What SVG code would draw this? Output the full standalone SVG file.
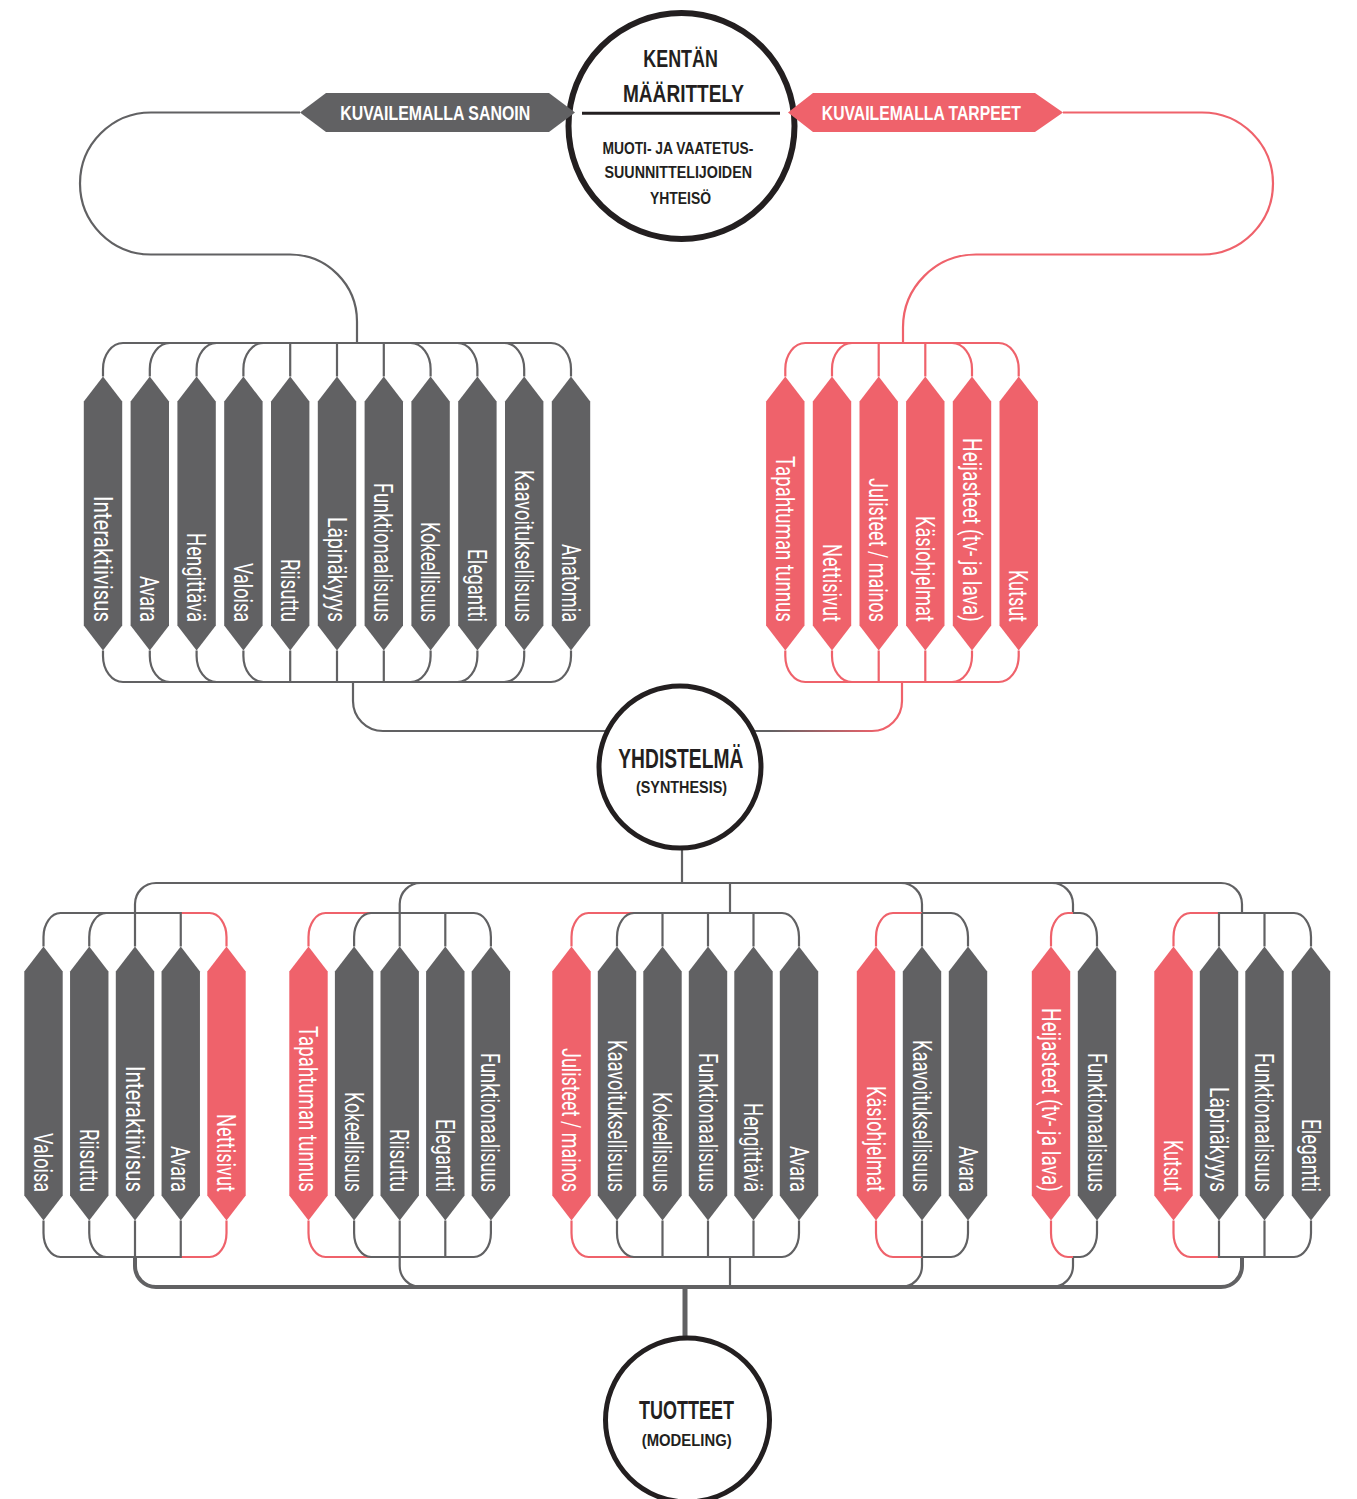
<svg xmlns="http://www.w3.org/2000/svg" xmlns:xlink="http://www.w3.org/1999/xlink" width="1357" height="1499" viewBox="0 0 1357 1499">
<style>
.g{fill:#616163}
.r{fill:#ef626b}
.lg{fill:none;stroke:#616163;stroke-width:2.2}
.lr{fill:none;stroke:#ef626b;stroke-width:2.2}
.lbl{font-family:Roboto,'Liberation Sans',sans-serif;font-weight:400;font-size:25px;fill:#fff}
.hd{font-family:'Liberation Sans',Arial,sans-serif;font-weight:700;fill:#231f20}
.bn{font-family:'Liberation Sans',Arial,sans-serif;font-weight:700;font-size:19.5px;fill:#fff}
.ring{fill:#fff;stroke:#231f20}
</style>
<defs>
<path id="pill" d="M0,0 L19.2,25 V249 L0,274 L-19.2,249 V25 Z"/>
<linearGradient id="gr" gradientUnits="userSpaceOnUse" x1="770" y1="0" x2="880" y2="0">
<stop offset="0" stop-color="#616163"/><stop offset="1" stop-color="#ef626b"/>
</linearGradient>
</defs>
<rect width="1357" height="1499" fill="#fff"/>
<g id="connectors">
<path class="lg" d="M300,112.5H151A71 71 0 0 0 151,254.5H290A67 67 0 0 1 357,321.5V343
M103,376.5V369A20 26 0 0 1 123,343H357M149.8,376.5V369A20 26 0 0 1 169.8,343H357M196.6,376.5V369A20 26 0 0 1 216.6,343H357M243.4,376.5V369A20 26 0 0 1 263.4,343H357M290.2,376.5V343H357M337,376.5V343H357M383.8,376.5V343H357M430.6,376.5V369A20 26 0 0 0 410.6,343H357M477.4,376.5V369A20 26 0 0 0 457.4,343H357M524.2,376.5V369A20 26 0 0 0 504.2,343H357M571,376.5V369A20 26 0 0 0 551,343H357
M103,650.5V656A20 26 0 0 0 123,682H353M149.8,650.5V656A20 26 0 0 0 169.8,682H353M196.6,650.5V656A20 26 0 0 0 216.6,682H353M243.4,650.5V656A20 26 0 0 0 263.4,682H353M290.2,650.5V682H353M337,650.5V682H353M383.8,650.5V682H353M430.6,650.5V656A20 26 0 0 1 410.6,682H353M477.4,650.5V656A20 26 0 0 1 457.4,682H353M524.2,650.5V656A20 26 0 0 1 504.2,682H353M571,650.5V656A20 26 0 0 1 551,682H353
M353,682V701A30 30 0 0 0 383,731H620"/>
<path class="lr" d="M1063,112.5H1202A71 71 0 0 1 1202,254.5H976A73 73 0 0 0 903,327.5V343
M785.3,376.5V369A20 26 0 0 1 805.3,343H903M832,376.5V369A20 26 0 0 1 852,343H903M878.7,376.5V343H903M925.3,376.5V343H903M972,376.5V369A20 26 0 0 0 952,343H903M1018.7,376.5V369A20 26 0 0 0 998.7,343H903
M785.3,650.5V656A20 26 0 0 0 805.3,682H902M832,650.5V656A20 26 0 0 0 852,682H902M878.7,650.5V682H902M925.3,650.5V682H902M972,650.5V656A20 26 0 0 1 952,682H902M1018.7,650.5V656A20 26 0 0 1 998.7,682H902"/>
<path fill="none" stroke="url(#gr)" stroke-width="2.2" d="M902,682V701A30 30 0 0 1 872,731H740"/>
<path class="lg" d="M682,848V883
M135,913V904A21 21 0 0 1 156,883H1221A21 21 0 0 1 1242,904V913
M399.7,913V904A21 21 0 0 1 420.7,883M730,883V913M901,883A21 21 0 0 1 922,904V913M1052,883A21 21 0 0 1 1073,904V913
M399.7,1257V1266A21 21 0 0 0 420.7,1287M730,1257V1287M922,1257V1266A21 21 0 0 1 901,1287M1073,1257V1266A21 21 0 0 1 1052,1287"/>
<path class="lg" style="stroke-width:4" d="M135,1257V1266A21 21 0 0 0 156,1287H1221A21 21 0 0 0 1242,1266V1257"/>
<path class="lg" style="stroke-width:5" d="M685,1287V1340"/>
<path class="lr" d="M226.5,946.5V937A17 24 0 0 0 209.5,913H180.75M226.5,1220.5V1233A17 24 0 0 1 209.5,1257H180.75
M308.5,946.5V937A17 24 0 0 1 325.5,913H371.1M308.5,1220.5V1233A17 24 0 0 0 325.5,1257H371.1
M571.5,946.5V937A17 24 0 0 1 588.5,913H634M571.5,1220.5V1233A17 24 0 0 0 588.5,1257H634
M876,946.5V937A17 24 0 0 1 893,913H922M876,1220.5V1233A17 24 0 0 0 893,1257H922
M1051,946.5V937A17 24 0 0 1 1068,913H1073M1051,1220.5V1233A17 24 0 0 0 1068,1257H1073
M1173.5,946.5V937A17 24 0 0 1 1190.5,913H1219M1173.5,1220.5V1233A17 24 0 0 0 1190.5,1257H1219"/>
<path class="lg" d="M43.5,946.5V937A17 24 0 0 1 60.5,913H135M89.25,946.5V937A17 24 0 0 1 106.25,913H135M135,946.5V913M180.75,946.5V913H135
M43.5,1220.5V1233A17 24 0 0 0 60.5,1257H135M89.25,1220.5V1233A17 24 0 0 0 106.25,1257H135M135,1220.5V1257M180.75,1220.5V1257H135
M354.1,946.5V937A17 24 0 0 1 371.1,913H399.7M399.7,946.5V913M445.3,946.5V913H399.7M490.9,946.5V937A17 24 0 0 0 473.9,913H399.7
M354.1,1220.5V1233A17 24 0 0 0 371.1,1257H399.7M399.7,1220.5V1257M445.3,1220.5V1257H399.7M490.9,1220.5V1233A17 24 0 0 1 473.9,1257H399.7
M617,946.5V937A17 24 0 0 1 634,913H730M662.5,946.5V913H730M708,946.5V913H730M753.5,946.5V913H730M799,946.5V937A17 24 0 0 0 782,913H730
M617,1220.5V1233A17 24 0 0 0 634,1257H730M662.5,1220.5V1257H730M708,1220.5V1257H730M753.5,1220.5V1257H730M799,1220.5V1233A17 24 0 0 1 782,1257H730
M922,946.5V913M968,946.5V937A17 24 0 0 0 951,913H922M922,1220.5V1257M968,1220.5V1233A17 24 0 0 1 951,1257H922
M1097,946.5V937A17 24 0 0 0 1080,913H1073M1097,1220.5V1233A17 24 0 0 1 1080,1257H1073
M1219,946.5V913H1242M1264.5,946.5V913H1242M1311,946.5V937A17 24 0 0 0 1294,913H1242
M1219,1220.5V1257H1242M1264.5,1220.5V1257H1242M1311,1220.5V1233A17 24 0 0 1 1294,1257H1242"/>
</g>

<g id="node-kentan">
<circle class="ring" cx="681.5" cy="126" r="113" stroke-width="6"/>
<path d="M582,113.3H780" stroke="#231f20" stroke-width="3"/>
<text class="hd" x="643.3" y="66.7" font-size="24" textLength="74.5" lengthAdjust="spacingAndGlyphs">KENTÄN</text>
<text class="hd" x="623" y="101.7" font-size="24" textLength="121" lengthAdjust="spacingAndGlyphs">MÄÄRITTELY</text>
<text class="hd" x="602.4" y="153.5" font-size="16" textLength="151" lengthAdjust="spacingAndGlyphs">MUOTI- JA VAATETUS-</text>
<text class="hd" x="604.5" y="178.3" font-size="16" textLength="147.5" lengthAdjust="spacingAndGlyphs">SUUNNITTELIJOIDEN</text>
<text class="hd" x="650" y="204" font-size="16" textLength="61" lengthAdjust="spacingAndGlyphs">YHTEISÖ</text>
</g>
<g id="banner-sanoin">
<polygon class="g" points="300,112.5 326,93 549,93 575,112.5 549,132 326,132"/>
<text class="bn" x="340.2" y="120" textLength="190" lengthAdjust="spacingAndGlyphs">KUVAILEMALLA SANOIN</text>
</g>
<g id="banner-tarpeet">
<polygon class="r" points="788,112.5 813,93 1035,93 1063,112.5 1035,132 813,132"/>
<text class="bn" x="821.8" y="120" textLength="199" lengthAdjust="spacingAndGlyphs">KUVAILEMALLA TARPEET</text>
</g>

<g id="node-yhdistelma">
<circle class="ring" cx="680" cy="767" r="81" stroke-width="5"/>
<text class="hd" x="618.3" y="768" font-size="28" textLength="125" lengthAdjust="spacingAndGlyphs">YHDISTELMÄ</text>
<text class="hd" x="636" y="793.3" font-size="17" textLength="91" lengthAdjust="spacingAndGlyphs">(SYNTHESIS)</text>
</g>
<g id="node-tuotteet">
<circle class="ring" cx="687.5" cy="1420" r="82" stroke-width="5"/>
<text class="hd" x="639" y="1419.3" font-size="26" textLength="95" lengthAdjust="spacingAndGlyphs">TUOTTEET</text>
<text class="hd" x="641.7" y="1445.7" font-size="17" textLength="90" lengthAdjust="spacingAndGlyphs">(MODELING)</text>
</g>

<g id="group-sanoin">
<g id="u-interaktiivisus"><use href="#pill" class="g" x="103" y="376.5"/><text class="lbl" transform="translate(103,622) rotate(90)" x="-126" y="9.5" textLength="126" lengthAdjust="spacingAndGlyphs">Interaktiivisus</text></g>
<g id="u-avara"><use href="#pill" class="g" x="149.8" y="376.5"/><text class="lbl" transform="translate(149.8,622) rotate(90)" x="-46" y="9.5" textLength="46" lengthAdjust="spacingAndGlyphs">Avara</text></g>
<g id="u-hengittava"><use href="#pill" class="g" x="196.6" y="376.5"/><text class="lbl" transform="translate(196.6,622) rotate(90)" x="-89" y="9.5" textLength="89" lengthAdjust="spacingAndGlyphs">Hengittävä</text></g>
<g id="u-valoisa"><use href="#pill" class="g" x="243.4" y="376.5"/><text class="lbl" transform="translate(243.4,622) rotate(90)" x="-59" y="9.5" textLength="59" lengthAdjust="spacingAndGlyphs">Valoisa</text></g>
<g id="u-riisuttu"><use href="#pill" class="g" x="290.2" y="376.5"/><text class="lbl" transform="translate(290.2,622) rotate(90)" x="-63" y="9.5" textLength="63" lengthAdjust="spacingAndGlyphs">Riisuttu</text></g>
<g id="u-lapinakyyys"><use href="#pill" class="g" x="337" y="376.5"/><text class="lbl" transform="translate(337,622) rotate(90)" x="-105" y="9.5" textLength="105" lengthAdjust="spacingAndGlyphs">Läpinäkyyys</text></g>
<g id="u-funktionaalisuus"><use href="#pill" class="g" x="383.8" y="376.5"/><text class="lbl" transform="translate(383.8,622) rotate(90)" x="-139" y="9.5" textLength="139" lengthAdjust="spacingAndGlyphs">Funktionaalisuus</text></g>
<g id="u-kokeellisuus"><use href="#pill" class="g" x="430.6" y="376.5"/><text class="lbl" transform="translate(430.6,622) rotate(90)" x="-100" y="9.5" textLength="100" lengthAdjust="spacingAndGlyphs">Kokeellisuus</text></g>
<g id="u-elegantti"><use href="#pill" class="g" x="477.4" y="376.5"/><text class="lbl" transform="translate(477.4,622) rotate(90)" x="-73" y="9.5" textLength="73" lengthAdjust="spacingAndGlyphs">Elegantti</text></g>
<g id="u-kaavoituksellisuus"><use href="#pill" class="g" x="524.2" y="376.5"/><text class="lbl" transform="translate(524.2,622) rotate(90)" x="-152" y="9.5" textLength="152" lengthAdjust="spacingAndGlyphs">Kaavoituksellisuus</text></g>
<g id="u-anatomia"><use href="#pill" class="g" x="571" y="376.5"/><text class="lbl" transform="translate(571,622) rotate(90)" x="-78" y="9.5" textLength="78" lengthAdjust="spacingAndGlyphs">Anatomia</text></g>
</g>

<g id="group-tarpeet">
<g id="u-tapahtuman"><use href="#pill" class="r" x="785.3" y="376.5"/><text class="lbl" transform="translate(785.3,622) rotate(90)" x="-166" y="9.5" textLength="166" lengthAdjust="spacingAndGlyphs">Tapahtuman tunnus</text></g>
<g id="u-nettisivut"><use href="#pill" class="r" x="832" y="376.5"/><text class="lbl" transform="translate(832,622) rotate(90)" x="-78" y="9.5" textLength="78" lengthAdjust="spacingAndGlyphs">Nettisivut</text></g>
<g id="u-julisteet"><use href="#pill" class="r" x="878.7" y="376.5"/><text class="lbl" transform="translate(878.7,622) rotate(90)" x="-144" y="9.5" textLength="144" lengthAdjust="spacingAndGlyphs">Julisteet / mainos</text></g>
<g id="u-kasiohjelmat"><use href="#pill" class="r" x="925.3" y="376.5"/><text class="lbl" transform="translate(925.3,622) rotate(90)" x="-106" y="9.5" textLength="106" lengthAdjust="spacingAndGlyphs">Käsiohjelmat</text></g>
<g id="u-heijasteet"><use href="#pill" class="r" x="972" y="376.5"/><text class="lbl" transform="translate(972,622) rotate(90)" x="-184" y="9.5" textLength="184" lengthAdjust="spacingAndGlyphs">Heijasteet (tv- ja lava)</text></g>
<g id="u-kutsut"><use href="#pill" class="r" x="1018.7" y="376.5"/><text class="lbl" transform="translate(1018.7,622) rotate(90)" x="-52" y="9.5" textLength="52" lengthAdjust="spacingAndGlyphs">Kutsut</text></g>
</g>

<g id="product-1">
<g id="p1-valoisa"><use href="#pill" class="g" x="43.5" y="946.5"/><text class="lbl" transform="translate(43.5,1192) rotate(90)" x="-59" y="9.5" textLength="59" lengthAdjust="spacingAndGlyphs">Valoisa</text></g>
<g id="p1-riisuttu"><use href="#pill" class="g" x="89.25" y="946.5"/><text class="lbl" transform="translate(89.25,1192) rotate(90)" x="-63" y="9.5" textLength="63" lengthAdjust="spacingAndGlyphs">Riisuttu</text></g>
<g id="p1-interaktiivisus"><use href="#pill" class="g" x="135" y="946.5"/><text class="lbl" transform="translate(135,1192) rotate(90)" x="-126" y="9.5" textLength="126" lengthAdjust="spacingAndGlyphs">Interaktiivisus</text></g>
<g id="p1-avara"><use href="#pill" class="g" x="180.75" y="946.5"/><text class="lbl" transform="translate(180.75,1192) rotate(90)" x="-46" y="9.5" textLength="46" lengthAdjust="spacingAndGlyphs">Avara</text></g>
<g id="p1-nettisivut"><use href="#pill" class="r" x="226.5" y="946.5"/><text class="lbl" transform="translate(226.5,1192) rotate(90)" x="-78" y="9.5" textLength="78" lengthAdjust="spacingAndGlyphs">Nettisivut</text></g>
</g>
<g id="product-2">
<g id="p2-tapahtuman"><use href="#pill" class="r" x="308.5" y="946.5"/><text class="lbl" transform="translate(308.5,1192) rotate(90)" x="-166" y="9.5" textLength="166" lengthAdjust="spacingAndGlyphs">Tapahtuman tunnus</text></g>
<g id="p2-kokeellisuus"><use href="#pill" class="g" x="354.1" y="946.5"/><text class="lbl" transform="translate(354.1,1192) rotate(90)" x="-100" y="9.5" textLength="100" lengthAdjust="spacingAndGlyphs">Kokeellisuus</text></g>
<g id="p2-riisuttu"><use href="#pill" class="g" x="399.7" y="946.5"/><text class="lbl" transform="translate(399.7,1192) rotate(90)" x="-63" y="9.5" textLength="63" lengthAdjust="spacingAndGlyphs">Riisuttu</text></g>
<g id="p2-elegantti"><use href="#pill" class="g" x="445.3" y="946.5"/><text class="lbl" transform="translate(445.3,1192) rotate(90)" x="-73" y="9.5" textLength="73" lengthAdjust="spacingAndGlyphs">Elegantti</text></g>
<g id="p2-funktionaalisuus"><use href="#pill" class="g" x="490.9" y="946.5"/><text class="lbl" transform="translate(490.9,1192) rotate(90)" x="-139" y="9.5" textLength="139" lengthAdjust="spacingAndGlyphs">Funktionaalisuus</text></g>
</g>
<g id="product-3">
<g id="p3-julisteet"><use href="#pill" class="r" x="571.5" y="946.5"/><text class="lbl" transform="translate(571.5,1192) rotate(90)" x="-144" y="9.5" textLength="144" lengthAdjust="spacingAndGlyphs">Julisteet / mainos</text></g>
<g id="p3-kaavoituksellisuus"><use href="#pill" class="g" x="617" y="946.5"/><text class="lbl" transform="translate(617,1192) rotate(90)" x="-152" y="9.5" textLength="152" lengthAdjust="spacingAndGlyphs">Kaavoituksellisuus</text></g>
<g id="p3-kokeellisuus"><use href="#pill" class="g" x="662.5" y="946.5"/><text class="lbl" transform="translate(662.5,1192) rotate(90)" x="-100" y="9.5" textLength="100" lengthAdjust="spacingAndGlyphs">Kokeellisuus</text></g>
<g id="p3-funktionaalisuus"><use href="#pill" class="g" x="708" y="946.5"/><text class="lbl" transform="translate(708,1192) rotate(90)" x="-139" y="9.5" textLength="139" lengthAdjust="spacingAndGlyphs">Funktionaalisuus</text></g>
<g id="p3-hengittava"><use href="#pill" class="g" x="753.5" y="946.5"/><text class="lbl" transform="translate(753.5,1192) rotate(90)" x="-89" y="9.5" textLength="89" lengthAdjust="spacingAndGlyphs">Hengittävä</text></g>
<g id="p3-avara"><use href="#pill" class="g" x="799" y="946.5"/><text class="lbl" transform="translate(799,1192) rotate(90)" x="-46" y="9.5" textLength="46" lengthAdjust="spacingAndGlyphs">Avara</text></g>
</g>
<g id="product-4">
<g id="p4-kasiohjelmat"><use href="#pill" class="r" x="876" y="946.5"/><text class="lbl" transform="translate(876,1192) rotate(90)" x="-106" y="9.5" textLength="106" lengthAdjust="spacingAndGlyphs">Käsiohjelmat</text></g>
<g id="p4-kaavoituksellisuus"><use href="#pill" class="g" x="922" y="946.5"/><text class="lbl" transform="translate(922,1192) rotate(90)" x="-152" y="9.5" textLength="152" lengthAdjust="spacingAndGlyphs">Kaavoituksellisuus</text></g>
<g id="p4-avara"><use href="#pill" class="g" x="968" y="946.5"/><text class="lbl" transform="translate(968,1192) rotate(90)" x="-46" y="9.5" textLength="46" lengthAdjust="spacingAndGlyphs">Avara</text></g>
</g>
<g id="product-5">
<g id="p5-heijasteet"><use href="#pill" class="r" x="1051" y="946.5"/><text class="lbl" transform="translate(1051,1192) rotate(90)" x="-184" y="9.5" textLength="184" lengthAdjust="spacingAndGlyphs">Heijasteet (tv- ja lava)</text></g>
<g id="p5-funktionaalisuus"><use href="#pill" class="g" x="1097" y="946.5"/><text class="lbl" transform="translate(1097,1192) rotate(90)" x="-139" y="9.5" textLength="139" lengthAdjust="spacingAndGlyphs">Funktionaalisuus</text></g>
</g>
<g id="product-6">
<g id="p6-kutsut"><use href="#pill" class="r" x="1173.5" y="946.5"/><text class="lbl" transform="translate(1173.5,1192) rotate(90)" x="-52" y="9.5" textLength="52" lengthAdjust="spacingAndGlyphs">Kutsut</text></g>
<g id="p6-lapinakyyys"><use href="#pill" class="g" x="1219" y="946.5"/><text class="lbl" transform="translate(1219,1192) rotate(90)" x="-105" y="9.5" textLength="105" lengthAdjust="spacingAndGlyphs">Läpinäkyyys</text></g>
<g id="p6-funktionaalisuus"><use href="#pill" class="g" x="1264.5" y="946.5"/><text class="lbl" transform="translate(1264.5,1192) rotate(90)" x="-139" y="9.5" textLength="139" lengthAdjust="spacingAndGlyphs">Funktionaalisuus</text></g>
<g id="p6-elegantti"><use href="#pill" class="g" x="1311" y="946.5"/><text class="lbl" transform="translate(1311,1192) rotate(90)" x="-73" y="9.5" textLength="73" lengthAdjust="spacingAndGlyphs">Elegantti</text></g>
</g>
</svg>
